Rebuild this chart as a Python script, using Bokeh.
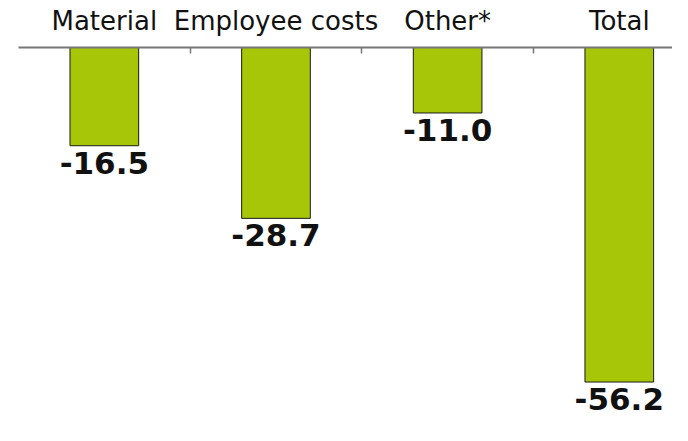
from bokeh.plotting import figure
from bokeh.models import ColumnDataSource, Range1d, FixedTicker
from bokeh.core.properties import value
from bokeh.embed import file_html
from bokeh.resources import INLINE

categories = ["Material", "Employee costs", "Other*", "Total"]
values = [-16.5, -28.7, -11.0, -56.2]
labels = ["-16.5", "-28.7", "-11.0", "-56.2"]

xs = list(range(len(categories)))
src = ColumnDataSource(dict(x=xs, top=[0] * len(values), bottom=values, label=labels))

p = figure(width=672, height=425, output_backend="svg", toolbar_location=None,
           x_range=Range1d(-0.5, 3.31), y_range=Range1d(-63.5, 0),
           x_axis_location="above", y_axis_location=None,
           min_border_left=18, min_border_right=0, min_border_top=47, min_border_bottom=0)
p.outline_line_color = None
p.grid.visible = False
p.background_fill_color = "white"
p.border_fill_color = "white"

p.vbar(x="x", width=0.4, top="top", bottom="bottom", source=src,
       fill_color="#A8C608", line_color="#1a1a1a", line_width=1)

p.text(x="x", y="bottom", text="label", source=src,
       text_align="center", text_baseline="top", y_offset=6,
       text_font=value("DejaVu Sans"), text_font_style="bold",
       text_font_size="31px", text_color="#111111")

ax = p.xaxis[0]
ax.ticker = FixedTicker(ticks=xs, minor_ticks=[i + 0.5 for i in xs])
ax.major_label_overrides = {i: c for i, c in zip(xs, categories)}
ax.major_label_text_font = "DejaVu Sans"
ax.major_label_text_font_size = "26px"
ax.major_label_text_color = "#111111"
ax.major_label_standoff = 12
ax.major_tick_line_color = None
ax.major_tick_in = 0
ax.major_tick_out = 0
ax.minor_tick_in = 6
ax.minor_tick_out = 0
ax.minor_tick_line_color = "#777777"
ax.minor_tick_line_width = 1.5
ax.axis_line_color = "#777777"
ax.axis_line_width = 2

open("out.html", "w").write(file_html(p, INLINE))
